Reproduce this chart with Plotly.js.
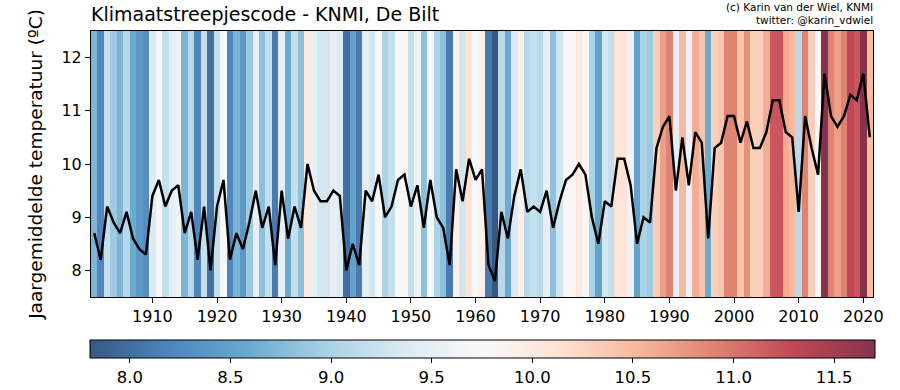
<!DOCTYPE html>
<html>
<head>
<meta charset="utf-8">
<script src="https://cdn.plot.ly/plotly-3.0.1.min.js"></script>
<style>
html, body { margin: 0; padding: 0; background: #ffffff; }
#chart { width: 900px; height: 390px; }
</style>
</head>
<body>
<div id="chart"></div>
<script>
// Years of the De Bilt record
const years = [];
for (let y = 1901; y <= 2021; y++) years.push(y);

// Annual mean temperature (°C)
const temps = [
  8.7, 8.2, 9.2, 8.9, 8.7, 9.1, 8.6, 8.4, 8.3, 9.4,      // 1901-1910
  9.7, 9.2, 9.5, 9.6, 8.7, 9.1, 8.2, 9.2, 8.0, 9.2,      // 1911-1920
  9.7, 8.2, 8.7, 8.4, 8.9, 9.5, 8.8, 9.2, 8.1, 9.5,      // 1921-1930
  8.6, 9.2, 8.8, 10.0, 9.5, 9.3, 9.3, 9.5, 9.4, 8.0,     // 1931-1940
  8.5, 8.1, 9.5, 9.3, 9.8, 9.0, 9.2, 9.7, 9.8, 9.2,      // 1941-1950
  9.6, 8.8, 9.7, 9.0, 8.8, 8.1, 9.9, 9.3, 10.1, 9.7,     // 1951-1960
  9.9, 8.1, 7.8, 9.1, 8.6, 9.4, 9.9, 9.1, 9.2, 9.1,      // 1961-1970
  9.5, 8.8, 9.3, 9.7, 9.8, 10.0, 9.8, 9.0, 8.5, 9.3,     // 1971-1980
  9.2, 10.1, 10.1, 9.6, 8.5, 9.0, 8.9, 10.3, 10.7, 10.9, // 1981-1990
  9.5, 10.5, 9.6, 10.6, 10.4, 8.6, 10.3, 10.4, 10.9, 10.9, // 1991-2000
  10.4, 10.8, 10.3, 10.3, 10.6, 11.2, 11.2, 10.6, 10.5, 9.1, // 2001-2010
  10.9, 10.3, 9.8, 11.7, 10.9, 10.7, 10.9, 11.3, 11.2, 11.7, // 2011-2020
  10.5                                                    // 2021
];

const xTicks = [1910, 1920, 1930, 1940, 1950, 1960, 1970, 1980, 1990, 2000, 2010, 2020];
const yTicks = [8, 9, 10, 11, 12];
const cbTicks = [8.0, 8.5, 9.0, 9.5, 10.0, 10.5, 11.0, 11.5];
const yLimits = [7.5, 12.5];

// RdBu_r, drawn at 80% opacity over white
const rdbuR = ['#053061','#2166ac','#4393c3','#92c5de','#d1e5f0','#f7f7f7',
               '#fddbc7','#f4a582','#d6604d','#b2182b','#67001f'];
function blend(hex, a) {
  const r = parseInt(hex.slice(1,3),16), g = parseInt(hex.slice(3,5),16), b = parseInt(hex.slice(5,7),16);
  const f = c => Math.round(a*c + (1-a)*255);
  return 'rgb(' + f(r) + ',' + f(g) + ',' + f(b) + ')';
}
const colorscale = rdbuR.map((c, i) => [i/(rdbuR.length-1), blend(c, 0.8)]);

const tMin = Math.min(...temps), tMax = Math.max(...temps);

const font = 'DejaVu Sans, sans-serif';

const stripes = {
  type: 'heatmap',
  x: years,
  y: yLimits,
  z: [temps],
  zmin: tMin,
  zmax: tMax,
  colorscale: colorscale,
  hoverinfo: 'skip',
  colorbar: {
    orientation: 'h',
    x: 0.5, xanchor: 'center',
    y: -0.162, yanchor: 'top', yref: 'paper',
    len: 1.004, lenmode: 'fraction',
    thickness: 18, thicknessmode: 'pixels',
    xpad: 0, ypad: 0,
    outlinewidth: 1, outlinecolor: '#000',
    tickmode: 'array', tickvals: cbTicks,
    ticktext: cbTicks.map(v => v.toFixed(1)),
    ticks: 'outside', ticklen: 5, tickcolor: '#000',
    tickfont: {family: font, size: 16.5, color: '#000'}
  }
};

const line = {
  type: 'scatter',
  mode: 'lines',
  x: years,
  y: temps,
  line: {color: '#000', width: 2.5},
  hoverinfo: 'x+y',
  showlegend: false
};

const layout = {
  width: 900, height: 390,
  margin: {l: 91, r: 27, t: 31, b: 93, autoexpand: false},
  paper_bgcolor: '#fff', plot_bgcolor: '#fff',
  font: {family: font, color: '#000'},
  title: {
    text: 'Klimaatstreepjescode - KNMI, De Bilt',
    font: {family: font, size: 19, color: '#000'},
    xref: 'paper', x: 0, xanchor: 'left',
    yref: 'container', y: 0.963, yanchor: 'middle'
  },
  xaxis: {
    range: [1900.5, 2021.5],
    tickmode: 'array', tickvals: xTicks,
    ticks: 'outside', ticklen: 5, tickcolor: '#000',
    showline: true, mirror: true, linecolor: '#000', linewidth: 1,
    showgrid: false, zeroline: false,
    tickfont: {family: font, size: 16, color: '#000'}
  },
  yaxis: {
    range: yLimits,
    tickmode: 'array', tickvals: yTicks,
    ticks: 'outside', ticklen: 5, tickcolor: '#000',
    showline: true, mirror: true, linecolor: '#000', linewidth: 1,
    showgrid: false, zeroline: false,
    tickfont: {family: font, size: 16, color: '#000'},
    title: {text: 'Jaargemiddelde temperatuur (ºC)', font: {family: font, size: 18.5, color: '#000'}, standoff: 13}
  },
  annotations: [
    {text: '(c) Karin van der Wiel, KNMI', xref: 'paper', yref: 'paper', x: 1.002, y: 1.09,
     xanchor: 'right', yanchor: 'middle', showarrow: false,
     font: {family: font, size: 10.5, color: '#000'}},
    {text: 'twitter: @karin_vdwiel', xref: 'paper', yref: 'paper', x: 1.002, y: 1.041,
     xanchor: 'right', yanchor: 'middle', showarrow: false,
     font: {family: font, size: 10.5, color: '#000'}}
  ],
  showlegend: false
};

Plotly.newPlot('chart', [stripes, line], layout, {displayModeBar: false, staticPlot: true});
</script>
</body>
</html>
